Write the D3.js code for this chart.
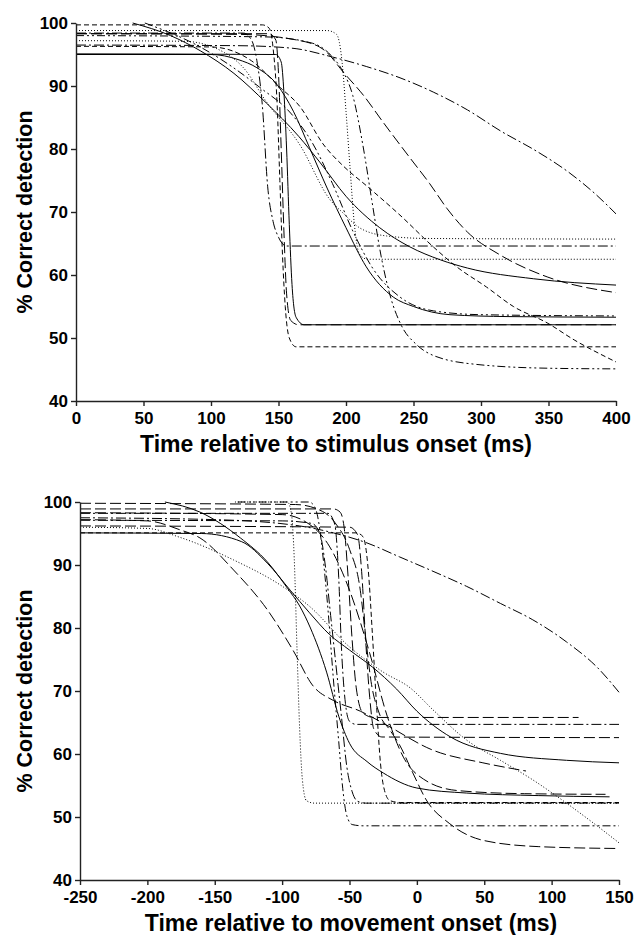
<!DOCTYPE html>
<html>
<head>
<meta charset="utf-8">
<script src="https://d3js.org/d3.v7.min.js"></script>
<style>
  body { margin: 0; background: #fff; }
  svg { display: block; font-family: "Liberation Sans", Arial, sans-serif; }
  .axis path, .axis line { stroke: #222; stroke-width: 1.4; }
  .axis text { font-size: 17px; font-weight: bold; fill: #000; }
  .title { font-size: 23px; font-weight: bold; fill: #000; }
  .ytitle { font-size: 21.5px; font-weight: bold; fill: #000; }
  .curve { fill: none; stroke: #000; stroke-width: 1; }
</style>
</head>
<body>
<div id="chart"></div>
<script>
// tick values
const yTicks = [40, 50, 60, 70, 80, 90, 100];
const stimTicks = [0, 50, 100, 150, 200, 250, 300, 350, 400];
const moveTicks = [-250, -200, -150, -100, -50, 0, 50, 100, 150];

// top panel: fitted curves, [time ms, % correct]
const stimSlowDashDot = [[0,96.5],[120,96.4],[160,96.0],[190,94.6],[215,93.1],[240,91.3],[265,89.0],[290,86.2],[315,82.8],[340,79.8],[365,76.3],[385,72.8],[400,69.7]];
const stimDottedStep = [[0,98.8],[186,98.8],[193,98.2],[197,94],[200,86],[203,77],[206,68.5],[210,63.3],[216,62.5],[400,62.5]];
const stimDashDotStep = [[0,98.4],[124,98.4],[130,97.3],[134,94],[138,87],[142,74],[146,68.5],[150,66],[156,64.6],[400,64.6]];
const stimDashedStep = [[0,99.7],[138,99.7],[143,99.2],[146,96],[149,87],[151,75],[153,63],[155,55],[158,50],[163,48.6],[400,48.6]];
const stimLongDashStep = [[0,98.3],[143,98.3],[148,97.3],[150,92],[152,80],[154,67],[156,57],[159,52.8],[165,52.1],[400,52.1]];
const stimSolidStep = [[0,95.1],[148,95.0],[152,93.8],[154,89],[156,80],[158,68],[160,58.5],[163,53.3],[169,52.1],[400,52.1]];
const stimDashDotDotLate = [[0,98],[140,97.8],[175,96.8],[190,94.6],[198,92.2],[205,88.5],[213,80],[219,72],[226,63],[233,56.5],[241,52],[252,49],[265,47.2],[297,45.8],[350,45.2],[400,45.1]];
const stimDottedSlow = [[0,97.2],[80,97.1],[110,95.3],[124,92.9],[141,87.5],[166,80.6],[188,72],[198,69.8],[210,67.5],[230,66.2],[260,65.8],[400,65.7]];
const stimSolidA = [[42,100],[70,98],[92,95.6],[117,92],[141,87.3],[165,82],[181,77.8],[200,72.5],[225,67.5],[247,64.5],[270,62.4],[290,61.1],[339,59.4],[400,58.4]];
const stimSolidB = [[0,95],[100,95],[120,94.2],[134,92.9],[149,90.2],[161,86],[173,80.2],[186,73.8],[200,67.5],[215,61.3],[235,56.5],[250,55],[277,53.7],[320,53.4],[400,53.3]];
const stimDashDotDotB = [[51,100],[92,96.2],[116,93],[136,89.8],[159,85.7],[175,81],[190,74.5],[205,67],[220,61],[240,56.5],[265,54.3],[300,53.7],[400,53.5]];
const stimLongDashA = [[0,98.3],[120,98.2],[166,97.2],[185,95.5],[198,92.2],[213,88.5],[228,84.1],[247,78.7],[262,74.5],[275,70.5],[290,66.8],[314,63.2],[349,59.7],[400,57.2]];
const stimLongDashB = [[0,96.3],[100,96.2],[130,94],[150,90],[166,86.7],[183,80.8],[198,77.3],[215,74.2],[240,69.5],[265,64.4],[282,61.3],[304,58.1],[324,55],[349,52.4],[369,49.7],[400,46.2]];

// bottom panel: same fits aligned to movement onset
const moveSlowDashDot = [[-250,97.5],[-150,97.2],[-87,96.2],[-62,95.1],[-37,93.5],[-13,91.3],[12,89],[37,86.6],[62,83.9],[86,81.3],[111,77.8],[135,73.5],[150,69.8]];
const moveDashDotDotStep = [[-133,100],[-80,100],[-76,99.3],[-73,97],[-70,92],[-66,83],[-62,72],[-58,62],[-55,54.5],[-52,50.2],[-48,48.8],[-40,48.6],[150,48.6]];
const moveDottedStep = [[-135,100],[-96,100],[-93,98],[-91,91],[-89,77],[-87,64],[-85,56],[-82,52.6],[-76,52.2],[150,52.2]];
const moveDashDotStepA = [[-250,97.1],[-100,97],[-78,96.6],[-72,95],[-68,90],[-64,82],[-60,74],[-56,66],[-52,58],[-48,54],[-44,52.5],[-38,52.2],[150,52.2]];
const moveLongDashStepHigh = [[-250,98.9],[-62,98.9],[-57,98.4],[-54,96],[-51,88],[-48,78],[-45,70.5],[-40,66.5],[-32,65.8],[120,65.8]];
const moveDashDotStepB = [[-250,98.2],[-66,98.2],[-61,96.5],[-58,88],[-56,77],[-53,68],[-50,65.2],[-45,64.7],[150,64.7]];
const moveLongDashStepLow = [[-250,96.2],[-50,96],[-44,94.8],[-41,89],[-38,78],[-35,69],[-32,64],[-26,62.7],[150,62.6]];
const moveDashedStep = [[-250,95.1],[-45,95.1],[-40,94.5],[-36,89],[-33,79],[-30,68],[-27,58.5],[-24,54.2],[-20,52.6],[-12,52.3],[150,52.3]];
const moveSolidA = [[-250,95.1],[-160,95],[-130,93.7],[-111,90.3],[-94,86],[-80,82.5],[-65,79],[-50,76.5],[-33,73.8],[-15,70.3],[0,66.8],[25,62.7],[62,60.1],[111,59],[150,58.6]];
const moveSolidB = [[-187,100],[-161,98.4],[-131,94.3],[-111,90.5],[-96,86.3],[-87,83.5],[-79,80],[-67,73],[-58,66],[-50,61.7],[-37,58.8],[-25,57],[0,54.6],[37,53.8],[90,53.4],[143,53.2]];
const moveLongDashMid = [[-250,98.3],[-100,98],[-80,96.5],[-65,93],[-50,86],[-35,76],[-22,66],[-10,59.5],[5,56],[30,54.2],[80,53.7],[140,53.6]];
const moveDottedSlow = [[-250,96],[-200,95.8],[-176,94.4],[-136,90.8],[-99,86.5],[-80,83.5],[-50,77],[-25,73],[-5,70.5],[12,67],[37,62.2],[62,59],[86,55.9],[111,52.2],[130,49.2],[150,45.9]];
const moveLongDashEarly = [[-250,97.2],[-200,97],[-176,95.6],[-161,94.3],[-136,89.2],[-111,82.9],[-92,76.5],[-77,70.8],[-62,68.5],[-42,66.8],[-25,64.9],[12,60.6],[49,58.6],[81,57.3]];
const moveLongDashLate = [[-250,99.8],[-90,99.6],[-70,98.5],[-60,96.5],[-50,92.5],[-42,86],[-38,78.5],[-34,71.5],[-28,66.5],[-20,63.8],[-13,61.5],[-3,57],[7,52.7],[24,49],[49,46.3],[90,45.3],[150,45]];

// line styles
const dash = {
  solid: null,
  dotted: "1,2",
  dashed: "5,3",
  longDash: "11,4",
  dashDot: "10,3,2,3",
  dashDotDot: "8,3,2,3,2,3"
};

const topCurves = [
  [stimSlowDashDot, "dashDot"], [stimDottedStep, "dotted"], [stimDashDotStep, "dashDot"],
  [stimDashedStep, "dashed"], [stimLongDashStep, "longDash"], [stimSolidStep, "solid"],
  [stimDashDotDotLate, "dashDotDot"], [stimDottedSlow, "dotted"], [stimSolidA, "solid"],
  [stimSolidB, "solid"], [stimDashDotDotB, "dashDotDot"], [stimLongDashA, "longDash"],
  [stimLongDashB, "dashed"]
];
const bottomCurves = [
  [moveSlowDashDot, "dashDot"], [moveDashDotDotStep, "dashDotDot"], [moveDottedStep, "dotted"],
  [moveDashDotStepA, "dashDot"], [moveLongDashStepHigh, "longDash"], [moveDashDotStepB, "dashDot"],
  [moveLongDashStepLow, "longDash"], [moveDashedStep, "dashed"], [moveSolidA, "solid"],
  [moveSolidB, "solid"], [moveLongDashMid, "longDash"], [moveDottedSlow, "dotted"],
  [moveLongDashEarly, "longDash"], [moveLongDashLate, "longDash"]
];

const width = 635, height = 935;
const svg = d3.select("#chart").append("svg")
    .attr("width", width)
    .attr("height", height);

function panel(opts) {
  const x = d3.scaleLinear().domain(opts.xDomain).range([opts.left, opts.right]);
  const y = d3.scaleLinear().domain([40, 100]).range([opts.bottom, opts.top]);
  const g = svg.append("g");

  const line = d3.line()
      .x(d => x(d[0]))
      .y(d => y(d[1]))
      .curve(d3.curveMonotoneX);

  g.append("g")
    .selectAll("path")
    .data(opts.curves)
    .join("path")
      .attr("class", "curve")
      .attr("d", d => line(d[0]))
      .attr("stroke", d => d[1] === "dotted" ? "#555" : "#000")
      .attr("stroke-dasharray", d => dash[d[1]]);

  g.append("g")
      .attr("class", "axis")
      .attr("transform", `translate(${opts.left},0)`)
      .call(d3.axisLeft(y).tickValues(yTicks).tickSize(5).tickSizeOuter(0).tickPadding(3));

  g.append("g")
      .attr("class", "axis")
      .attr("transform", `translate(0,${opts.bottom})`)
      .call(d3.axisBottom(x).tickValues(opts.xTicks).tickFormat(d => String(d))
        .tickSize(5).tickSizeOuter(0).tickPadding(6));

  g.append("text")
      .attr("class", "title")
      .attr("x", opts.titleX)
      .attr("y", opts.bottom + 51)
      .attr("text-anchor", "middle")
      .text(opts.xTitle);

  g.append("text")
      .attr("class", "ytitle")
      .attr("transform", `translate(32,${(opts.top + opts.bottom) / 2}) rotate(-90)`)
      .attr("text-anchor", "middle")
      .text("% Correct detection");
}

panel({
  xDomain: [0, 400], xTicks: stimTicks, curves: topCurves,
  left: 76, right: 616, top: 23, bottom: 401, titleX: 336,
  xTitle: "Time relative to stimulus onset (ms)"
});

panel({
  xDomain: [-250, 150], xTicks: moveTicks, curves: bottomCurves,
  left: 80, right: 619, top: 502, bottom: 880, titleX: 351,
  xTitle: "Time relative to movement onset (ms)"
});
</script>
</body>
</html>
